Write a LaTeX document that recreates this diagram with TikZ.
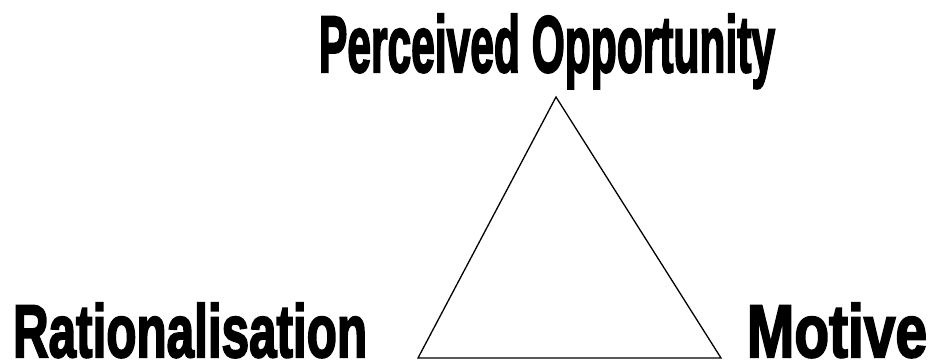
\documentclass[tikz,border=0pt]{standalone}
\usepackage{fontspec}
\setmainfont{Liberation Sans}[BoldFont={Liberation Sans Bold},BoldFeatures={FakeBold=3}]
\tikzset{lbl/.style={inner sep=0pt, outer sep=0pt, anchor=base west, font=\bfseries}}
\begin{document}
\begin{tikzpicture}[x=1pt,y=-1pt]
\useasboundingbox (0,0) rectangle (930,363);
\node[lbl] (po) at (319,72) {\resizebox{456pt}{58pt}{Perceived Opportunity}};
\node[lbl] (ra) at (13,357) {\resizebox{354pt}{54pt}{Rationalisation}};
\node[lbl] (mo) at (747,357) {\resizebox{180pt}{54pt}{Motive}};
\draw[line width=1.3pt, line join=miter] (556,97) -- (418,358) -- (721,358) -- cycle;
\end{tikzpicture}
\end{document}
